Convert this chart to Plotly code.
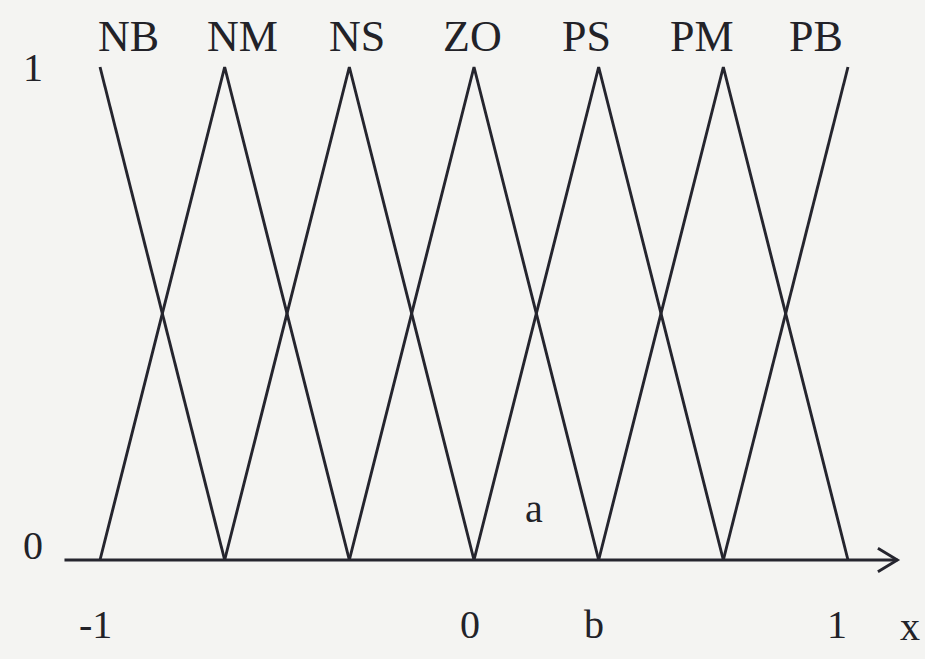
import plotly.graph_objects as go

# Fuzzy sets on the normalised universe [-1, 1]
set_names = ["NB", "NM", "NS", "ZO", "PS", "PM", "PB"]
set_centers = [-1.0, -2 / 3, -1 / 3, 0.0, 1 / 3, 2 / 3, 1.0]
half_width = 1 / 3

# Tick-style labels under the axis
x_tick_vals = [-1.0, 0.0, 1 / 3, 1.0]
x_tick_text = ["-1", "0", "b", "1"]
y_tick_vals = [0.0, 1.0]
y_tick_text = ["0", "1"]

LINE = "#25252e"
TEXT = "#222228"
BG = "#f4f4f2"
FONT = "Liberation Serif, Times New Roman, serif"
LW = 2.9

fig = go.Figure()

for i, (name, c) in enumerate(zip(set_names, set_centers)):
    xs, ys = [], []
    if i > 0:
        xs.append(c - half_width)
        ys.append(0.0)
    xs.append(c)
    ys.append(1.0)
    if i < len(set_names) - 1:
        xs.append(c + half_width)
        ys.append(0.0)
    fig.add_trace(go.Scatter(x=xs, y=ys, mode="lines", name=name,
                             line=dict(color=LINE, width=LW),
                             hoverinfo="skip", showlegend=False))

# x axis line with an open arrow head
x_start, x_end = -1.095, 1.132
fig.add_shape(type="line", x0=x_start, x1=x_end, y0=0, y1=0,
              line=dict(color=LINE, width=LW))
head_dx, head_dy = 0.052, 0.024
fig.add_trace(go.Scatter(x=[x_end - head_dx, x_end, x_end - head_dx],
                         y=[head_dy, 0, -head_dy], mode="lines",
                         line=dict(color=LINE, width=LW),
                         hoverinfo="skip", showlegend=False))

# set names, evenly spread above the peaks
lab_start, lab_step = -0.925, 0.3067
for i, name in enumerate(set_names):
    fig.add_annotation(x=lab_start + i * lab_step, y=1.062, text=name,
                       showarrow=False, xanchor="center", yanchor="middle",
                       font=dict(family=FONT, size=44, color=TEXT))

# membership grades on the left
for v, t in zip(y_tick_vals, y_tick_text):
    fig.add_annotation(x=-1.18, y=v + (0.03 if v == 0 else 0.0), text=t,
                       showarrow=False, xanchor="center", yanchor="middle",
                       font=dict(family=FONT, size=40, color=TEXT))

# values under the axis
for v, t in zip(x_tick_vals, x_tick_text):
    nudge = -0.029 if v == 1.0 else -0.012
    fig.add_annotation(x=v + nudge, y=-0.13, text=t, showarrow=False,
                       xanchor="center", yanchor="middle",
                       font=dict(family=FONT, size=40, color=TEXT))
fig.add_annotation(x=1.167, y=-0.135, text="x", showarrow=False,
                   xanchor="center", yanchor="middle",
                   font=dict(family=FONT, size=40, color=TEXT))
fig.add_annotation(x=(set_centers[3] + set_centers[4]) / 2 - 0.005, y=0.105,
                   text="a", showarrow=False, xanchor="center", yanchor="middle",
                   font=dict(family=FONT, size=40, color=TEXT))

fig.update_layout(
    width=925, height=659,
    margin=dict(l=0, r=0, t=0, b=0),
    paper_bgcolor=BG, plot_bgcolor=BG,
    xaxis=dict(range=[-1.2674, 1.2059], visible=False, fixedrange=True),
    yaxis=dict(range=[-0.2008, 1.1359], visible=False, fixedrange=True),
)

fig.write_html("out.html")
